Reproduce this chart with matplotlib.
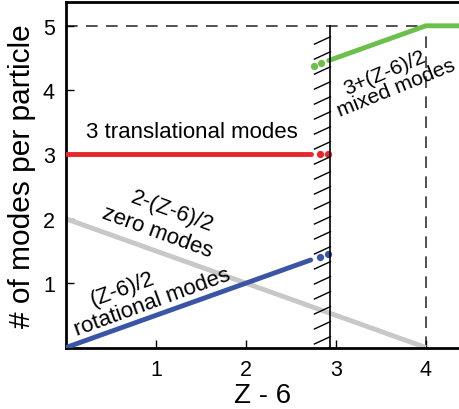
import numpy as np
import matplotlib
matplotlib.use("Agg")
import matplotlib.pyplot as plt

plt.rcParams['font.family'] = ['Liberation Sans', 'DejaVu Sans']

# data
x_solid = [0.0, 2.72]
trans_y = [3.0, 3.0]
trans_dots_x = [2.82, 2.91]
rot_dots_x = [2.82, 2.91]
zero_x = [0.0, 4.0]
mixed_dots_x = [2.76, 2.84]
mixed_x = [2.92, 4.0, 4.38]
x_iso = 2.94
x_max = 4.0
y_max = 5.0
xticks = [1, 2, 3, 4]
yticks = [1, 2, 3, 4, 5]

def rot(x):
    return np.asarray(x) / 2.0

def zero(x):
    return 2.0 - np.asarray(x) / 2.0

def mixed(x):
    return np.minimum(3.0 + np.asarray(x) / 2.0, 5.0)

red = '#e8262b'
blue = '#3b55a6'
green = '#6dbf4b'
gray = '#c8c8c8'

fig = plt.figure(figsize=(4.6, 4.1), dpi=100)
ax = fig.add_axes([0.1435, 0.15, 0.8565, 0.8427])
ax.set_xlim(0, 4.38)
ax.set_ylim(0, 5.37)

lw = 3.5
ax.plot(zero_x, zero(zero_x), color=gray, lw=lw, solid_capstyle='butt', zorder=2)
ax.plot(x_solid, trans_y, color=red, lw=lw, solid_capstyle='round', zorder=3)
ax.plot(trans_dots_x, [3.0] * len(trans_dots_x), 'o', color=red, ms=4.2, zorder=3)
ax.plot(x_solid, rot(x_solid), color=blue, lw=lw, solid_capstyle='round', zorder=3)
ax.plot(rot_dots_x, rot(rot_dots_x), 'o', color=blue, ms=4.2, zorder=3)
ax.plot(mixed_x, mixed(mixed_x), color=green, lw=lw, solid_capstyle='round', zorder=3)
ax.plot(mixed_dots_x, mixed(mixed_dots_x), 'o', color=green, ms=4.2, zorder=3)

# dashed guides
ax.plot([0, x_max], [y_max, y_max], color='#333333', lw=1.2, dashes=(7, 5), zorder=1)
ax.plot([x_max, x_max], [0, y_max], color='#333333', lw=1.2, dashes=(7, 5), zorder=1)

# isostatic line with hatching
ax.plot([x_iso, x_iso], [0, y_max], color='black', lw=1.2, zorder=4)
hy = np.arange(0.17, 4.9, 0.233)
for yy in hy:
    ax.plot([x_iso - 0.178, x_iso], [yy - 0.115, yy], color='black', lw=1.0, zorder=4)

# annotations
fs = 16
kw = dict(fontsize=fs, ha='center', va='center', rotation_mode='anchor')
ax.text(1.40, 3.35, '3 translational modes', fontsize=fs, ha='center', va='center')
ax.text(1.18, 2.12, '2-(Z-6)/2', rotation=-20, **kw)
ax.text(1.01, 1.80, 'zero modes', rotation=-20, **kw)
ax.text(0.63, 0.91, '(Z-6)/2', rotation=20, **kw)
ax.text(0.96, 0.71, 'rotational modes', rotation=20, **kw)
kw_m = dict(kw, fontsize=15.2)
ax.text(3.54, 4.28, '3+(Z-6)/2', rotation=23, **kw_m)
ax.text(3.67, 4.05, 'mixed modes', rotation=22, **kw_m)

ax.set_xticks(xticks)
ax.set_yticks(yticks)
ax.tick_params(direction='in', length=6, width=1.0, labelsize=15.5, pad=8)
ax.spines['right'].set_visible(False)
for s in ['left', 'bottom', 'top']:
    ax.spines[s].set_linewidth(2.0)
ax.set_xlabel('Z - 6', fontsize=20, labelpad=2)
ax.set_ylabel('# of modes per particle', fontsize=21.5, labelpad=5)

fig.savefig('out.png', dpi=100)
